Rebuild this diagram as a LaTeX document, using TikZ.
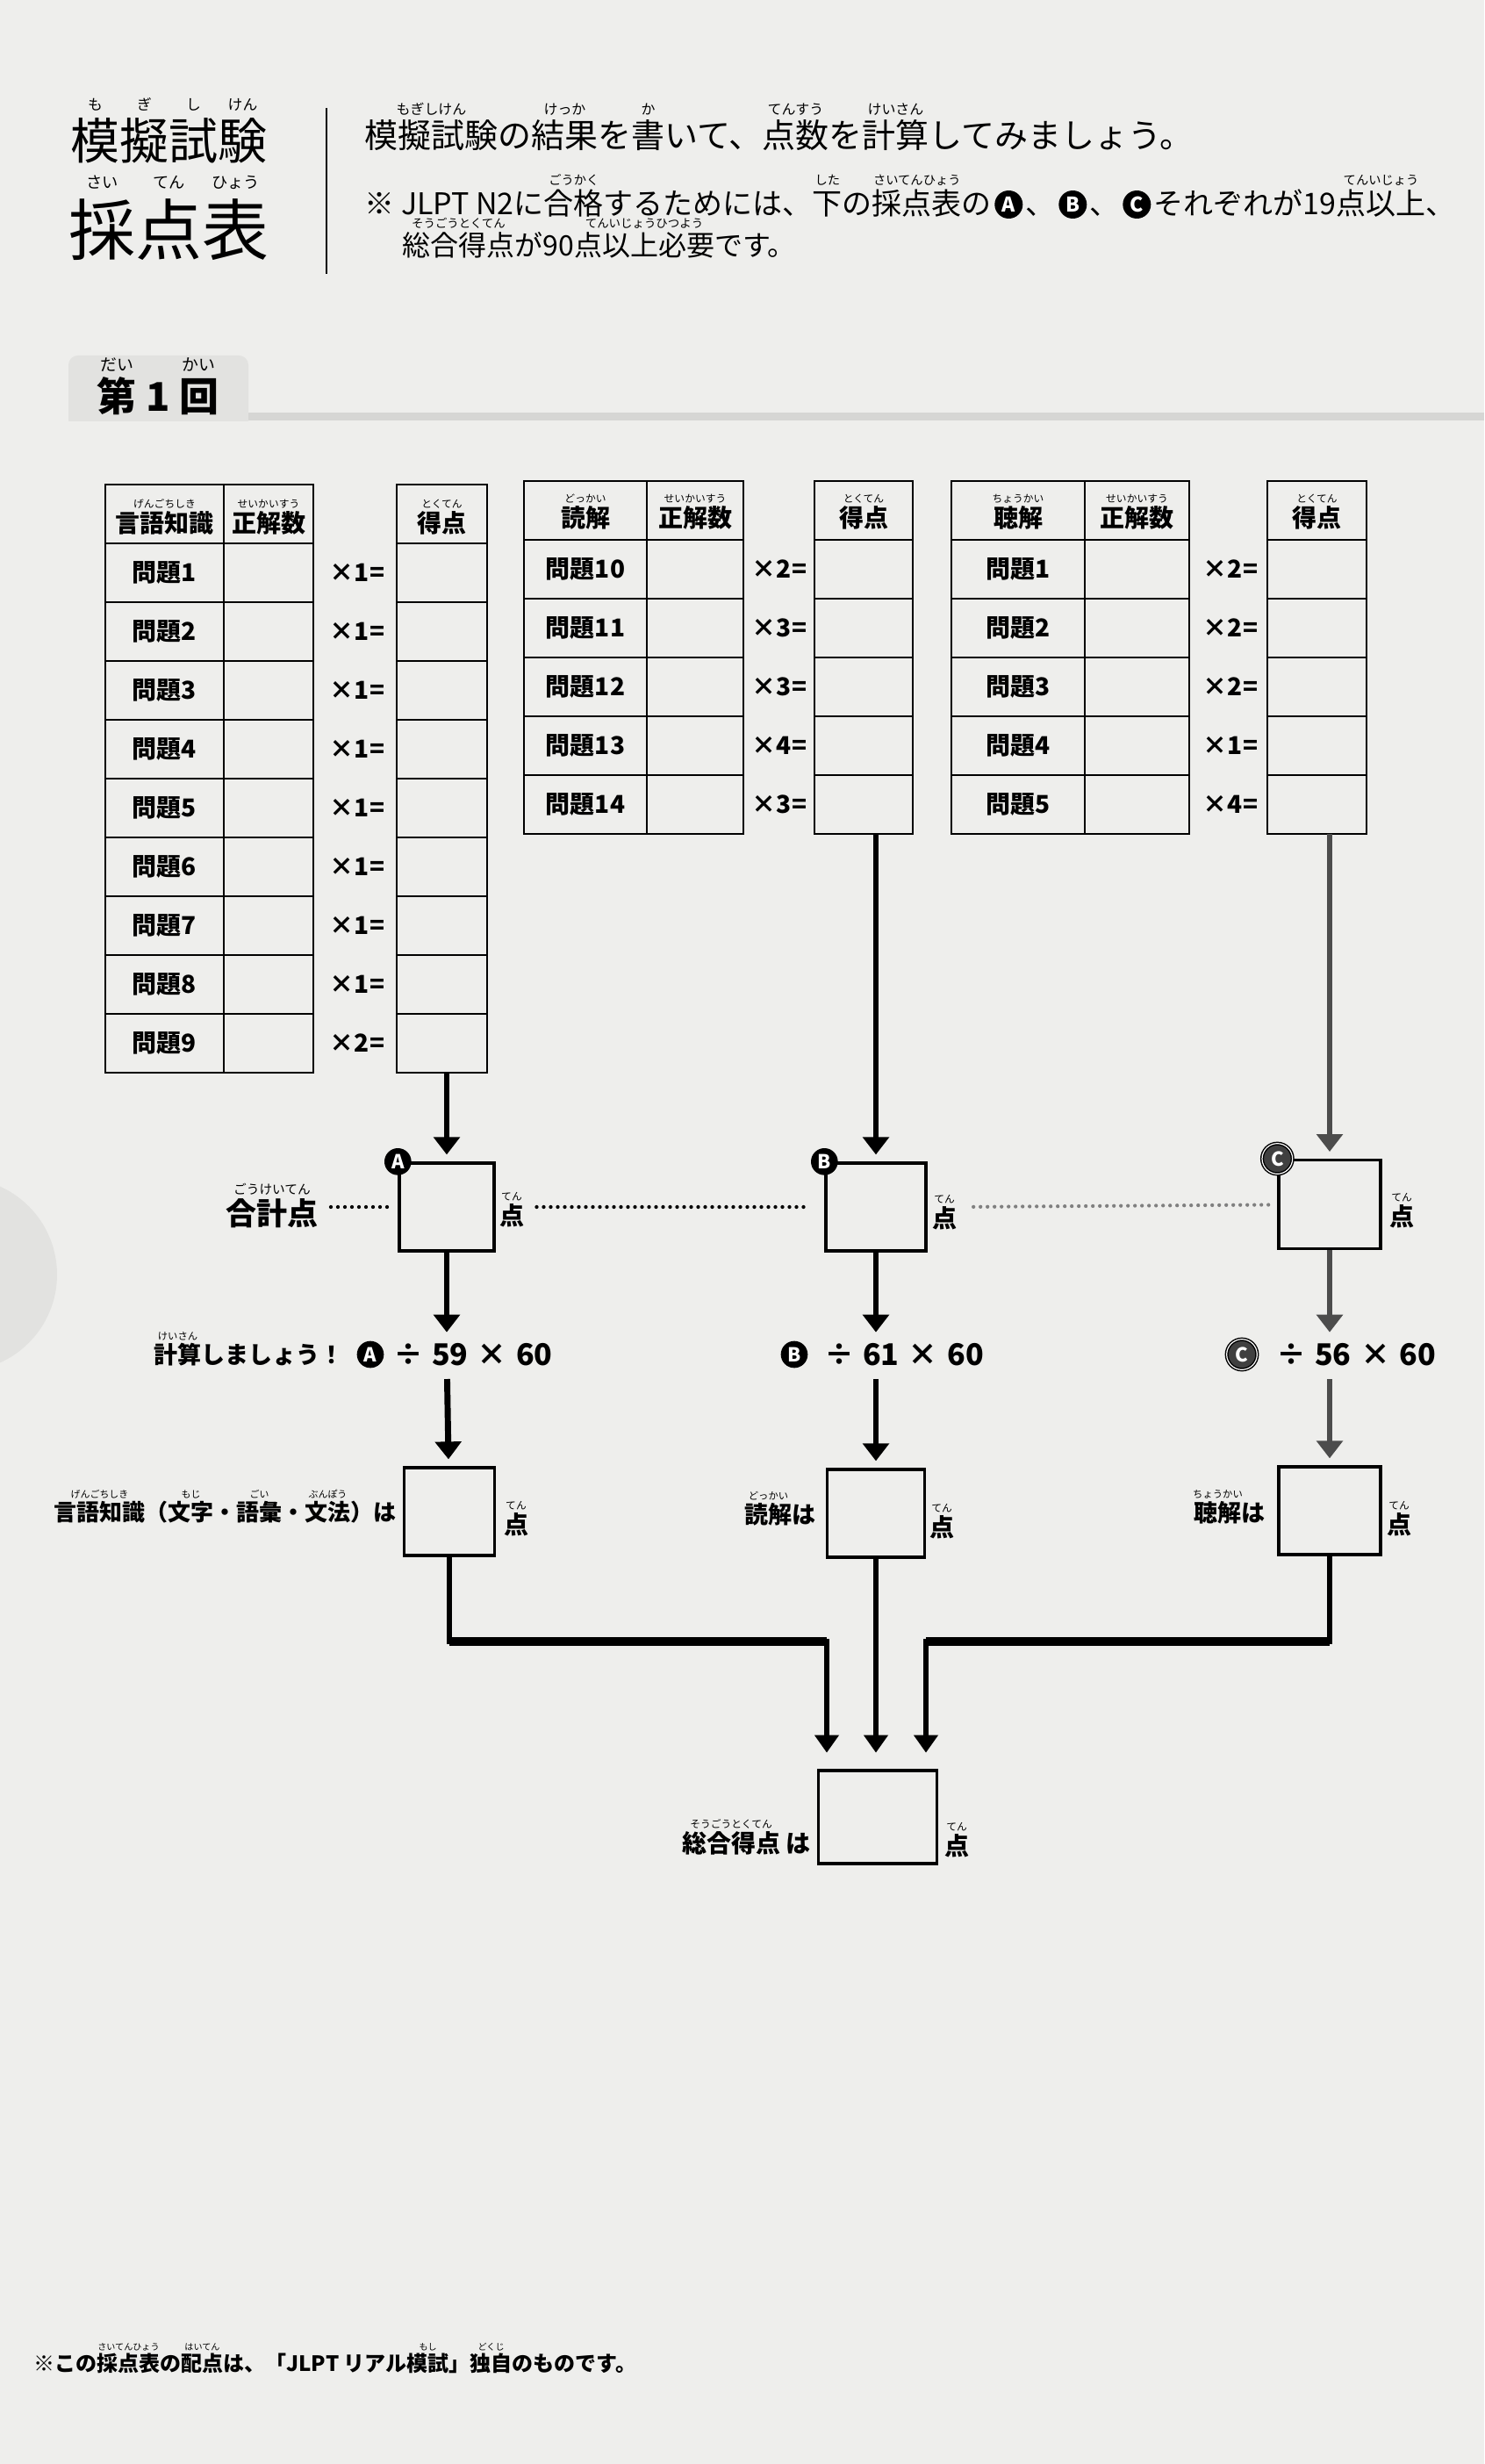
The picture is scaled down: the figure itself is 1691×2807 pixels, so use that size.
\documentclass[tikz,border=0pt]{standalone}
\usepackage{fontspec}
\setmainfont{Noto Sans CJK JP}
\usepackage{graphicx}
\usetikzlibrary{arrows.meta,positioning,calc}

% font size in page pixels (1px = 0.75pt)
\newcommand\pxfont[1]{\fontsize{\dimexpr #1pt*3/4\relax}{\dimexpr #1pt*3/4\relax}\selectfont}
% furigana over a word
\newsavebox\rbbox
\newcommand\rb[3][0.42]{\sbox\rbbox{#2}\makebox[\wd\rbbox]{\raisebox{1em}[0pt][0pt]{\scalebox{#1}{\mdseries #3}}}\kern-\wd\rbbox\usebox\rbbox}
% ÷ n × 60
\newcommand\scoreexpr[1]{\makebox[36pt]{÷}\makebox[36pt]{#1}\makebox[36pt]{×}\makebox[36pt]{60}}

\tikzset{every picture/.style={line width=0.75pt}}
\tikzset{
  paper/.style={fill={rgb,255:red,238;green,238;blue,236}},
  tabfill/.style={fill={rgb,255:red,226;green,226;blue,224}},
  bandfill/.style={fill={rgb,255:red,214;green,214;blue,212}},
  tblout/.style={line width=1.8pt},
  tblin/.style={line width=1.2pt},
  cell/.style={inner sep=0pt, font=\bfseries\pxfont{28}},
  lbl/.style={inner sep=0pt, font=\bfseries\pxfont{27}},
  ptlbl/.style={inner sep=0pt, font=\bfseries\pxfont{28}},
  ptbox/.style={draw, line width=2.5pt, inner sep=0pt},
  flow/.style={line width=5.2pt, -{Triangle[width=22pt,length=15pt]}, shorten >=6pt},
  flowC/.style={flow, draw=black!70},
  merge/.style={line width=4.2pt, -{Triangle[width=20pt,length=15pt]}, shorten >=14pt},
  mergebar/.style={line width=6.8pt},
  dotline/.style={line width=3.2pt, line cap=round, dash pattern=on 0pt off 6pt},
  badge/.style={circle, fill=black, text=white, inner sep=0pt, minimum size=23pt, font=\bfseries\pxfont{22}},
  badgeC/.style={badge, minimum size=26pt, fill=black!75, draw=black, line width=1.1pt, double=white, double distance=0.9pt},
  textbadge/.style={badge, minimum size=24pt, font=\bfseries\pxfont{23}},
  exprtxt/.style={inner sep=0pt, font=\bfseries\pxfont{34}},
}

\begin{document}
\begin{tikzpicture}[x=0.75pt,y=0.75pt,yscale=-1,xscale=1]
\useasboundingbox (0,0) rectangle (1691,2807);

%Shape: Rectangle (paper)
\fill[paper] (0,0) rectangle (1691,2807);
%Shape: Circle (side tab)
\fill[tabfill] (-45,1452) circle (110);
%Shape: Rectangle (round tab)
\fill[tabfill, rounded corners=8pt] (78,405) rectangle (283,500);
\fill[paper] (60,480) rectangle (300,505);
\fill[bandfill] (283,470) rectangle (1691,479);

% Text Node
\node[anchor=base, inner sep=0pt, font=\bfseries\pxfont{45}] (kai) at (180,468) {\rb{第}{だい} 1 \rb{回}{かい}};

% Text Node
\node[anchor=base west, inner sep=0pt, font=\pxfont{56}] (ttlA) at (80,182) {\rb[0.3]{模}{も}\rb[0.3]{擬}{ぎ}\rb[0.3]{試}{し}\rb[0.3]{験}{けん}};
% Text Node
\node[anchor=base west, inner sep=0pt, font=\pxfont{76}] (ttlB) at (78,291) {\rb[0.24]{採}{さい}\rb[0.24]{点}{てん}\rb[0.24]{表}{ひょう}};
%Straight Lines
\draw[line width=1.4pt] (372,123) -- (372,312);

% Text Node
\node[anchor=base west, inner sep=0pt, font=\pxfont{38}] (lineA) at (415,169) {\rb{模擬試験}{もぎしけん}の\rb{結果}{けっか}を\rb{書}{か}いて、\rb{点数}{てんすう}を\rb{計算}{けいさん}してみましょう。};
% Text Node
\node[anchor=base west, inner sep=0pt, font=\pxfont{34}] (lineB) at (415,245) {※ JLPT N2に\rb{合格}{ごうかく}するためには、\rb{下}{した}の\rb{採点表}{さいてんひょう}の};
\node[textbadge] (lineBa) at ($(lineB.base east)+(19,-12)$) {A};
\node[anchor=base west, inner sep=0pt, font=\pxfont{34}] (lineBb) at ($(lineB.base east)+(38,0)$) {、};
\node[textbadge] (lineBc) at ($(lineBb.base east)+(19,-12)$) {B};
\node[anchor=base west, inner sep=0pt, font=\pxfont{34}] (lineBd) at ($(lineBb.base east)+(38,0)$) {、};
\node[textbadge] (lineBe) at ($(lineBd.base east)+(19,-12)$) {C};
\node[anchor=base west, inner sep=0pt, font=\pxfont{34}] (lineBf) at ($(lineBd.base east)+(38,0)$) {それぞれが19\rb{点以上}{てんいじょう}、};
% Text Node
\node[anchor=base west, inner sep=0pt, font=\pxfont{32}] (lineC) at (458,292) {\rb{総合得点}{そうごうとくてん}が90\rb{点以上必要}{てんいじょうひつよう}です。};

%Shape: Table (gengo chishiki)
\draw[tblout] (120,552) rectangle (357,1222);
\draw[tblin] (255,552) -- (255,1222);
\foreach \k in {1,...,9} \draw[tblin] (120,{552+67*\k}) -- (357,{552+67*\k});
\draw[tblout] (452,552) rectangle (555,1222);
\foreach \k in {1,...,9} \draw[tblin] (452,{552+67*\k}) -- (555,{552+67*\k});
\coordinate (sc1) at (503.5,1222);
\node[cell] (h1a) at (187.5,596) {\rb{言語知識}{げんごちしき}};
\node[cell] (h1b) at (306,596) {\rb{正解数}{せいかいすう}};
\node[cell] (h1c) at (503.5,596) {\rb{得点}{とくてん}};
\foreach \k/\w in {1/1,2/1,3/1,4/1,5/1,6/1,7/1,8/1,9/2} {
  \node[cell] (q1\k) at (187.5,{585.5+67*\k}) {問題\k};
  \node[cell] (m1\k) at (407,{585.5+67*\k}) {×\w=};
}

%Shape: Table (dokkai)
\draw[tblout] (597,548) rectangle (847,950);
\draw[tblin] (737,548) -- (737,950);
\foreach \k in {1,...,5} \draw[tblin] (597,{548+67*\k}) -- (847,{548+67*\k});
\draw[tblout] (928,548) rectangle (1040,950);
\foreach \k in {1,...,5} \draw[tblin] (928,{548+67*\k}) -- (1040,{548+67*\k});
\coordinate (sc2) at (984,950);
\node[cell] (h2a) at (667,590) {\rb{読解}{どっかい}};
\node[cell] (h2b) at (792,590) {\rb{正解数}{せいかいすう}};
\node[cell] (h2c) at (984,590) {\rb{得点}{とくてん}};
\foreach \k/\q/\w in {1/10/2,2/11/3,3/12/3,4/13/4,5/14/3} {
  \node[cell] (q2\k) at (667,{581.5+67*\k}) {問題\q};
  \node[cell] (m2\k) at (888,{581.5+67*\k}) {×\w=};
}

%Shape: Table (choukai)
\draw[tblout] (1084,548) rectangle (1355,950);
\draw[tblin] (1236,548) -- (1236,950);
\foreach \k in {1,...,5} \draw[tblin] (1084,{548+67*\k}) -- (1355,{548+67*\k});
\draw[tblout] (1444,548) rectangle (1557,950);
\foreach \k in {1,...,5} \draw[tblin] (1444,{548+67*\k}) -- (1557,{548+67*\k});
\coordinate (sc3) at (1500.5,950);
\node[cell] (h3a) at (1160,590) {\rb{聴解}{ちょうかい}};
\node[cell] (h3b) at (1295.5,590) {\rb{正解数}{せいかいすう}};
\node[cell] (h3c) at (1500.5,590) {\rb{得点}{とくてん}};
\foreach \k/\w in {1/2,2/2,3/2,4/1,5/4} {
  \node[cell] (q3\k) at (1160,{581.5+67*\k}) {問題\k};
  \node[cell] (m3\k) at (1402,{581.5+67*\k}) {×\w=};
}

%Shape: Rectangle (goukeiten)
\node[ptbox, minimum width=81pt, minimum height=75pt] (totA) at (509,1375) {};
\node[ptbox, minimum width=85.5pt, minimum height=75pt] (totB) at (998,1375) {};
\node[ptbox, minimum width=87pt, minimum height=75.5pt] (totC) at (1515,1372) {};
\draw[flow] (sc1 -| totA) -- (totA);
\draw[flow] (sc2 -| totB) -- (totB);
\draw[flowC] (sc3 -| totC) -- (totC);
\node[badge] (bA) at (totA.north west) {A};
\node[badge] (bB) at (totB.north west) {B};
\node[badgeC] (bC) at (totC.north west) {C};
% Text Node
\node[lbl, font=\bfseries\pxfont{35}] (gokei) at (310,1382) {\rb{合計点}{ごうけいてん}};
\node[ptlbl] (ptA) at (583,1385) {\rb{点}{てん}};
\node[ptlbl] (ptB) at (1076,1388) {\rb{点}{てん}};
\node[ptlbl] (ptC) at (1597,1386) {\rb{点}{てん}};
%Dotted Lines
\draw[dotline, shorten <=10.5pt, shorten >=8pt] (gokei.east |- totA) -- (totA);
\draw[dotline, shorten <=10.5pt, shorten >=14pt] (ptA.east |- totA) -- (totB);
\draw[dotline, draw=black!50, shorten <=14pt, shorten >=6pt] (ptB.east |- totB) -- (totC);

% Text Node
\coordinate (cA) at (509,1543);
\coordinate (cB) at (998,1543);
\coordinate (cC) at (1515,1543);
\node[lbl, anchor=east] (keisan) at (392,1543) {\rb{計算}{けいさん}しましょう！};
\node[badge] (cbA) at (422,1543) {A};
\node[exprtxt] (exA) at (537,1543) {\scoreexpr{59}};
\node[badge] (cbB) at (905,1543) {B};
\node[exprtxt] (exB) at (1028,1543) {\scoreexpr{61}};
\node[badgeC] (cbC) at (1415,1543) {C};
\node[exprtxt] (exC) at (1543,1543) {\scoreexpr{56}};
\draw[flow, shorten >=19pt] (totA) -- (cA);
\draw[flow, shorten >=19pt] (totB) -- (cB);
\draw[flowC, shorten >=19pt] (totC) -- (cC);

%Shape: Rectangle (section scores)
\node[ptbox, minimum width=77pt, minimum height=75pt] (resA) at (512,1722) {};
\node[ptbox, minimum width=83pt, minimum height=75pt] (resB) at (998,1724) {};
\node[ptbox, minimum width=87pt, minimum height=75pt] (resC) at (1515,1721) {};
\draw[flow, shorten <=21pt] (cA) -- (resA);
\draw[flow, shorten <=21pt] (cB) -- (resB);
\draw[flowC, shorten <=21pt] (cC) -- (resC);
\node[lbl, anchor=east, font=\bfseries\pxfont{26}] (lblA) at (452,1723) {\rb{言語知識}{げんごちしき}（\rb{文字}{もじ}・\rb{語彙}{ごい}・\rb{文法}{ぶんぽう}）は};
\node[lbl, anchor=east] (lblB) at (930,1725) {\rb{読解}{どっかい}は};
\node[lbl, anchor=east] (lblC) at (1442,1723) {\rb{聴解}{ちょうかい}は};
\node[ptlbl] (ptrA) at (588,1737) {\rb{点}{てん}};
\node[ptlbl] (ptrB) at (1073,1740) {\rb{点}{てん}};
\node[ptlbl] (ptrC) at (1594,1737) {\rb{点}{てん}};

%Shape: Rectangle (total)
\node[ptbox, minimum width=101pt, minimum height=79.5pt] (tot) at (1000,2070) {};
\coordinate (jA) at (942,1870);
\coordinate (jC) at (1055,1870);
\draw[merge] (resA) |- (jA) -- (jA |- tot.north);
\draw[mergebar] (resA |- jA) -- (jA);
\draw[merge] (resB) -- (resB |- tot.north);
\draw[merge] (resC) |- (jC) -- (jC |- tot.north);
\draw[mergebar] (resC |- jC) -- (jC);
\node[lbl, anchor=east, font=\bfseries\pxfont{28}] (lblT) at (924,2100) {\rb{総合得点}{そうごうとくてん} は};
\node[ptlbl] (ptT) at (1090,2103) {\rb{点}{てん}};

% Text Node
\node[anchor=base west, inner sep=0pt, font=\bfseries\pxfont{24}] (note) at (38,2701) {※この\rb{採点表}{さいてんひょう}の\rb{配点}{はいてん}は、「JLPT リアル\rb{模試}{もし}」\rb{独自}{どくじ}のものです。};

\end{tikzpicture}
\end{document}
